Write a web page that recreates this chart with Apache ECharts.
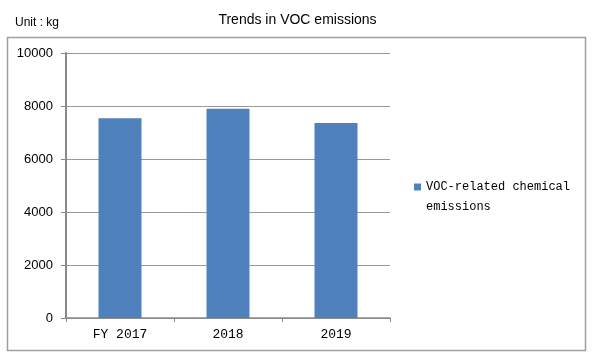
<!DOCTYPE html>
<html><head><meta charset="utf-8">
<script src="https://cdn.jsdelivr.net/npm/echarts@6/dist/echarts.min.js"></script>
<style>html,body{margin:0;padding:0;background:#fff}#c{width:595px;height:363px}</style>
</head><body><div id="c"></div>
<script>
const categories = ['FY 2017', '2018', '2019'];
const vocValues = [7540, 7900, 7360];
const seriesName = 'VOC-related chemical emissions';
const yTicks = [0, 2000, 4000, 6000, 8000, 10000];

const chart = echarts.init(document.getElementById('c'), null, {renderer: 'canvas'});
chart.setOption({
  animation: false,
  backgroundColor: '#fff',
  title: {
    text: 'Trends in VOC emissions', left: 'center', top: 8,
    textStyle: {fontFamily: 'Liberation Sans', fontSize: 14, fontWeight: 'normal', color: '#000'}
  },
  graphic: [
    {type: 'rect', shape: {x: 7.5, y: 37.5, width: 578, height: 313}, style: {fill: 'none', stroke: '#a0a0a0', lineWidth: 1.5}, z: -1},
    {type: 'text', left: 15, top: 17, style: {text: 'Unit : kg', fontFamily: 'Liberation Sans', fontSize: 12, fill: '#000'}}
  ],
  grid: {left: 66, top: 53, width: 324, height: 265, containLabel: false},
  legend: {
    left: 414, top: 177, orient: 'vertical', padding: 0,
    icon: 'path://M0,0h7v7h-7z M0,27h0.001v0.001h-0.001z', itemWidth: 7, itemHeight: 27,
    data: [seriesName],
    formatter: () => 'VOC-related chemical\nemissions',
    textStyle: {fontFamily: 'Liberation Mono', fontSize: 12, color: '#000', lineHeight: 20}
  },
  xAxis: {
    type: 'category', data: categories,
    axisLine: {lineStyle: {color: '#888', width: 1.5}},
    axisTick: {show: true, length: 4, lineStyle: {color: '#888'}},
    axisLabel: {fontFamily: 'Liberation Mono', fontSize: 13, color: '#000', margin: 10}
  },
  yAxis: {
    type: 'value', min: yTicks[0], max: yTicks[yTicks.length - 1], interval: 2000,
    axisLine: {show: true, lineStyle: {color: '#888', width: 2}},
    axisTick: {show: true, length: 5, lineStyle: {color: '#888'}},
    splitLine: {lineStyle: {color: '#999', width: 1}},
    axisLabel: {fontFamily: 'Liberation Sans', fontSize: 13, color: '#000', margin: 13, formatter: v => String(v)}
  },
  series: [{
    name: seriesName, type: 'bar', data: vocValues, barWidth: 43,
    itemStyle: {color: '#4f81bd'}
  }]
});
</script></body></html>
